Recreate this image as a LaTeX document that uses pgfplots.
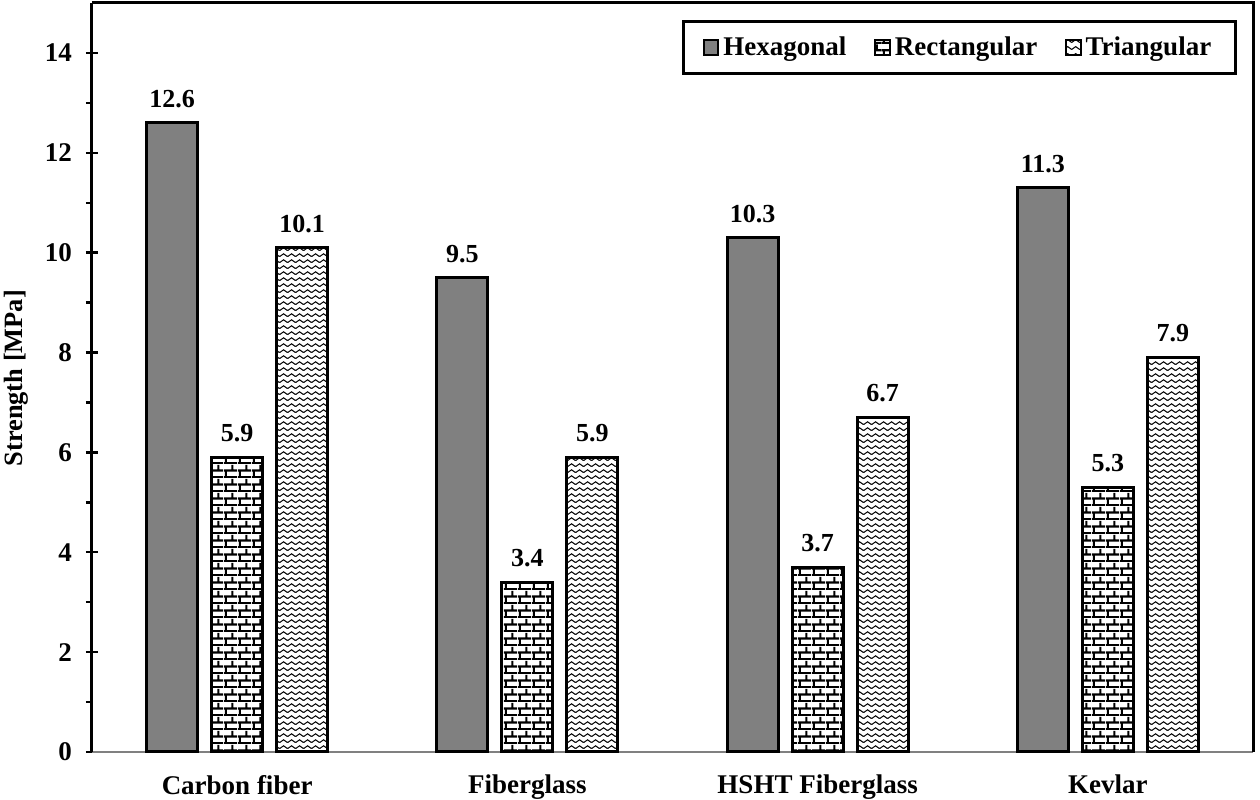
\documentclass[border=0pt]{standalone}
\usepackage{fontspec}
\setmainfont{Liberation Serif}
\usepackage{pgfplots}
\pgfplotsset{compat=1.18}
\usetikzlibrary{patterns}

\pgfdeclarepatternformonly{mybricks}{\pgfqpoint{0pt}{0pt}}{\pgfqpoint{7pt}{7pt}}{\pgfqpoint{7pt}{7pt}}{%
  \pgfsetlinewidth{1.1pt}%
  \pgfpathmoveto{\pgfqpoint{0pt}{0.5pt}}\pgfpathlineto{\pgfqpoint{7pt}{0.5pt}}%
  \pgfpathmoveto{\pgfqpoint{0pt}{4pt}}\pgfpathlineto{\pgfqpoint{7pt}{4pt}}%
  \pgfpathmoveto{\pgfqpoint{1pt}{0.5pt}}\pgfpathlineto{\pgfqpoint{1pt}{4pt}}%
  \pgfpathmoveto{\pgfqpoint{4.5pt}{4pt}}\pgfpathlineto{\pgfqpoint{4.5pt}{7pt}}%
  \pgfpathmoveto{\pgfqpoint{4.5pt}{0pt}}\pgfpathlineto{\pgfqpoint{4.5pt}{0.5pt}}%
  \pgfusepath{stroke}}

\pgfdeclarepatternformonly{mywave}{\pgfqpoint{0pt}{0pt}}{\pgfqpoint{4pt}{3.2pt}}{\pgfqpoint{4pt}{3.2pt}}{%
  \pgfsetlinewidth{0.55pt}%
  \pgfpathmoveto{\pgfqpoint{-0.5pt}{1.05pt}}%
  \pgfpathlineto{\pgfqpoint{0pt}{0.9pt}}%
  \pgfpathlineto{\pgfqpoint{2pt}{2.3pt}}%
  \pgfpathlineto{\pgfqpoint{4pt}{0.9pt}}%
  \pgfpathlineto{\pgfqpoint{4.5pt}{1.05pt}}%
  \pgfusepath{stroke}}

\definecolor{hexgray}{RGB}{128,128,128}

\begin{document}
\begin{tikzpicture}
\begin{axis}[
  scale only axis,
  width=580.5pt, height=374.5pt,
  ybar=7pt, bar width=25.5pt,
  xmin=-0.5, xmax=3.5, ymin=0, ymax=15,
  axis y line*=left, axis x line*=bottom,
  y axis line style={line width=1.5pt, black},
  x axis line style={line width=1pt, gray},
  xtick={0,1,2,3},
  xticklabels={Carbon fiber, Fiberglass, HSHT Fiberglass, Kevlar},
  major x tick style={draw=none},
  xticklabel style={font=\bfseries\fontsize{13.5}{14}\selectfont, yshift=-5pt},
  ytick={0,2,...,14},
  tick align=center,
  major tick length=6pt,
  y tick style={line width=1.2pt, black},
  extra y ticks={1,3,5,7,9,11,13},
  extra y tick labels={},
  extra y tick style={tick align=outside, major tick length=3pt},
  yticklabel style={font=\bfseries\fontsize{13.5}{14}\selectfont, xshift=-3.5pt},
  /pgf/number format/assume math mode=true,
  ylabel={Strength [MPa]},
  ylabel style={font=\bfseries\fontsize{13.2}{14}\selectfont, at={(axis description cs:-0.0655,0.499)}, anchor=center},
  nodes near coords,
  every node near coord/.append style={font=\bfseries\fontsize{13}{14}\selectfont, yshift=3.5pt,
    /pgf/number format/.cd, fixed, fixed zerofill, precision=1, assume math mode=true},
  legend style={at={(axis description cs:0.986,0.977)}, anchor=north east,
    draw=black, line width=1.5pt, legend columns=3,
    font=\bfseries\fontsize{13.5}{14}\selectfont,
    inner xsep=10pt, inner ysep=5.5pt,
    /tikz/every even column/.append style={column sep=12pt}},
  legend image code/.code={\draw[#1, line width=1pt] (0pt,-3.6pt) rectangle (7.2pt,3.6pt);},
  clip=false,
]
\addplot[fill=hexgray, draw=black, line width=1.5pt] coordinates {(0,12.6) (1,9.5) (2,10.3) (3,11.3)};
\addplot[pattern=mybricks, draw=black, line width=1.5pt] coordinates {(0,5.9) (1,3.4) (2,3.7) (3,5.3)};
\addplot[pattern=mywave, draw=black, line width=1.5pt] coordinates {(0,10.1) (1,5.9) (2,6.7) (3,7.9)};
\legend{Hexagonal, Rectangular, Triangular}
\draw[line width=1.5pt, black] (rel axis cs:0,1) -- (rel axis cs:1,1) -- (rel axis cs:1,0);
\end{axis}
\pgfresetboundingbox
\path ([xshift=-46pt,yshift=-24pt]current axis.south west) rectangle ([xshift=3.5pt,yshift=1.5pt]current axis.north east);
\end{tikzpicture}
\end{document}
